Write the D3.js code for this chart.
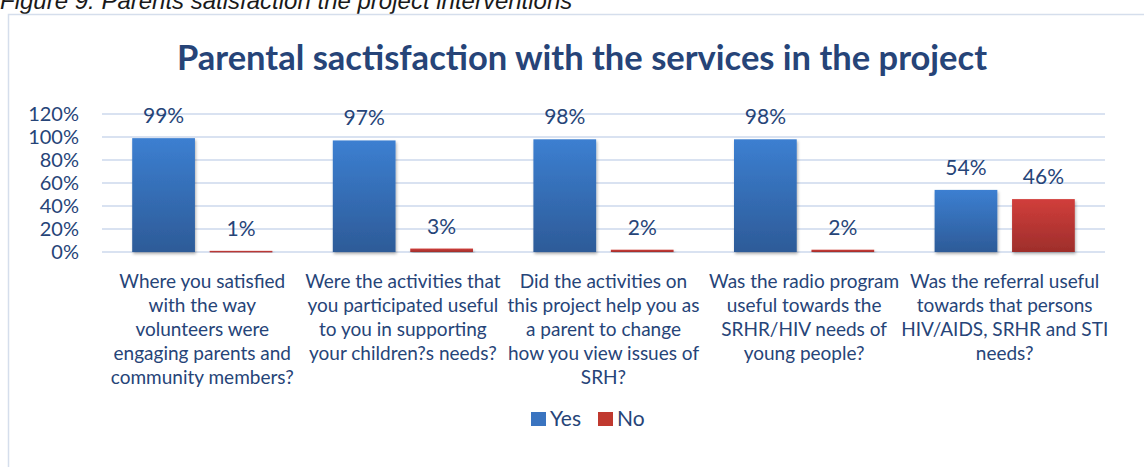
<!DOCTYPE html>
<html>
<head>
<meta charset="utf-8">
<script src="https://cdn.jsdelivr.net/npm/d3@7"></script>
<style>
  body { margin: 0; background: #fff; }
  svg { display: block; }
</style>
</head>
<body>
<div id="chart"></div>
<script>
// values
var categories = [
  ["Where you satisfied", "with the way", "volunteers were", "engaging parents and", "community members?"],
  ["Were the activities that", "you participated useful", "to you in supporting", "your children?s needs?"],
  ["Did the activities on", "this project help you as", "a parent to change", "how you view issues of", "SRH?"],
  ["Was the radio program", "useful towards the", "SRHR/HIV needs of", "young people?"],
  ["Was the referral useful", "towards that persons", "HIV/AIDS, SRHR and STI", "needs?"]
];
var series = ["Yes", "No"];
var yesValues = [0.99, 0.97, 0.98, 0.98, 0.54];
var noValues = [0.01, 0.03, 0.02, 0.02, 0.46];
var yTicks = [0, 0.2, 0.4, 0.6, 0.8, 1.0, 1.2];

var W = 1144, H = 467;
var textColor = "#264478";
var font = "Lato, 'Open Sans', sans-serif";

var svg = d3.select("#chart").append("svg")
  .attr("width", W)
  .attr("height", H);

var defs = svg.append("defs");
function grad(id, top, bottom) {
  var g = defs.append("linearGradient").attr("id", id)
    .attr("x1", 0).attr("y1", 0).attr("x2", 0).attr("y2", 1);
  g.append("stop").attr("offset", "0%").attr("stop-color", top);
  g.append("stop").attr("offset", "100%").attr("stop-color", bottom);
}
grad("gYes", "#3C7FD1", "#2D5B98");
grad("gNo", "#D13E3B", "#9E2E2B");
var colors = { Yes: "url(#gYes)", No: "url(#gNo)" };
var legendColors = { Yes: "#3A74C0", No: "#C0392F" };

var shadow = defs.append("filter").attr("id", "shadow")
  .attr("x", "-20%").attr("y", "-20%").attr("width", "140%").attr("height", "140%");
shadow.append("feDropShadow").attr("dx", 1).attr("dy", 2).attr("stdDeviation", 1.5)
  .attr("flood-color", "#000").attr("flood-opacity", 0.3);

// caption, cut by the top edge as in the source
svg.append("text")
  .attr("x", 0).attr("y", 9)
  .attr("font-family", "'Liberation Sans', Arial, sans-serif")
  .attr("font-style", "italic")
  .attr("font-size", 24)
  .attr("fill", "#1a1a1a")
  .text("Figure 9: Parents satisfaction the project interventions");

// chart frame
svg.append("rect")
  .attr("x", 8.5).attr("y", 14.5)
  .attr("width", W).attr("height", H)
  .attr("fill", "#fff")
  .attr("stroke", "#D5DEEC").attr("stroke-width", 1.5);

// title
svg.append("text")
  .attr("x", 582).attr("y", 70)
  .attr("text-anchor", "middle")
  .attr("font-family", font)
  .attr("font-weight", "bold")
  .attr("font-size", 34.5)
  .attr("fill", textColor)
  .text("Parental sactisfaction with the services in the project");

var x0 = d3.scaleBand()
  .domain(d3.range(categories.length))
  .range([102, 1105]);

var x1 = d3.scaleBand()
  .domain(series)
  .range([0, x0.bandwidth()])
  .paddingInner(0.19)
  .paddingOuter(0.39);

var y = d3.scaleLinear().domain([0, 1.2]).range([252, 114]);

// gridlines
svg.append("g").selectAll("line")
  .data(yTicks)
  .join("line")
  .attr("x1", 102).attr("x2", 1105)
  .attr("y1", function(d) { return y(d); })
  .attr("y2", function(d) { return y(d); })
  .attr("stroke", "#D9E2F1")
  .attr("stroke-width", 2);

// y axis
var yAxis = svg.append("g")
  .attr("transform", "translate(79,0)")
  .call(d3.axisLeft(y).tickValues(yTicks).tickFormat(d3.format(".0%")).tickSize(0).tickPadding(0));
yAxis.select(".domain").remove();
yAxis.selectAll("text")
  .attr("font-family", font)
  .attr("font-size", 20)
  .attr("fill", textColor);

var rows = categories.map(function(c, i) {
  return { i: i, values: [{ key: "Yes", v: yesValues[i] }, { key: "No", v: noValues[i] }] };
});

var groups = svg.append("g").selectAll("g")
  .data(rows)
  .join("g")
  .attr("transform", function(d) { return "translate(" + x0(d.i) + ",0)"; });

groups.selectAll("rect")
  .data(function(d) { return d.values; })
  .join("rect")
  .attr("x", function(d) { return x1(d.key); })
  .attr("y", function(d) { return y(d.v); })
  .attr("width", x1.bandwidth())
  .attr("height", function(d) { return Math.max(1.5, y(0) - y(d.v)); })
  .attr("fill", function(d) { return colors[d.key]; })
  .attr("filter", "url(#shadow)");

groups.selectAll("text.val")
  .data(function(d) { return d.values; })
  .join("text")
  .attr("class", "val")
  .attr("x", function(d) { return x1(d.key) + x1.bandwidth() / 2; })
  .attr("y", function(d) { return y(d.v) - 15; })
  .attr("text-anchor", "middle")
  .attr("font-family", font)
  .attr("font-size", 21)
  .attr("fill", textColor)
  .text(function(d) { return d3.format(".0%")(d.v); });

// category labels
groups.append("text")
  .attr("text-anchor", "middle")
  .attr("font-family", font)
  .attr("font-size", 19)
  .attr("fill", textColor)
  .selectAll("tspan")
  .data(function(d) { return categories[d.i]; })
  .join("tspan")
  .attr("x", x0.bandwidth() / 2)
  .attr("y", function(d, j) { return 288 + j * 24; })
  .text(function(d) { return d; });

// legend
var legend = svg.append("g").attr("transform", "translate(531,419)");
var items = legend.selectAll("g")
  .data(series)
  .join("g")
  .attr("transform", function(d, i) { return "translate(" + (i * 67) + ",0)"; });
items.append("rect")
  .attr("x", 0).attr("y", -7)
  .attr("width", 15).attr("height", 14)
  .attr("fill", function(d) { return legendColors[d]; });
items.append("text")
  .attr("x", 19).attr("y", 7)
  .attr("font-family", font)
  .attr("font-size", 21)
  .attr("fill", textColor)
  .text(function(d) { return d; });
</script>
</body>
</html>
